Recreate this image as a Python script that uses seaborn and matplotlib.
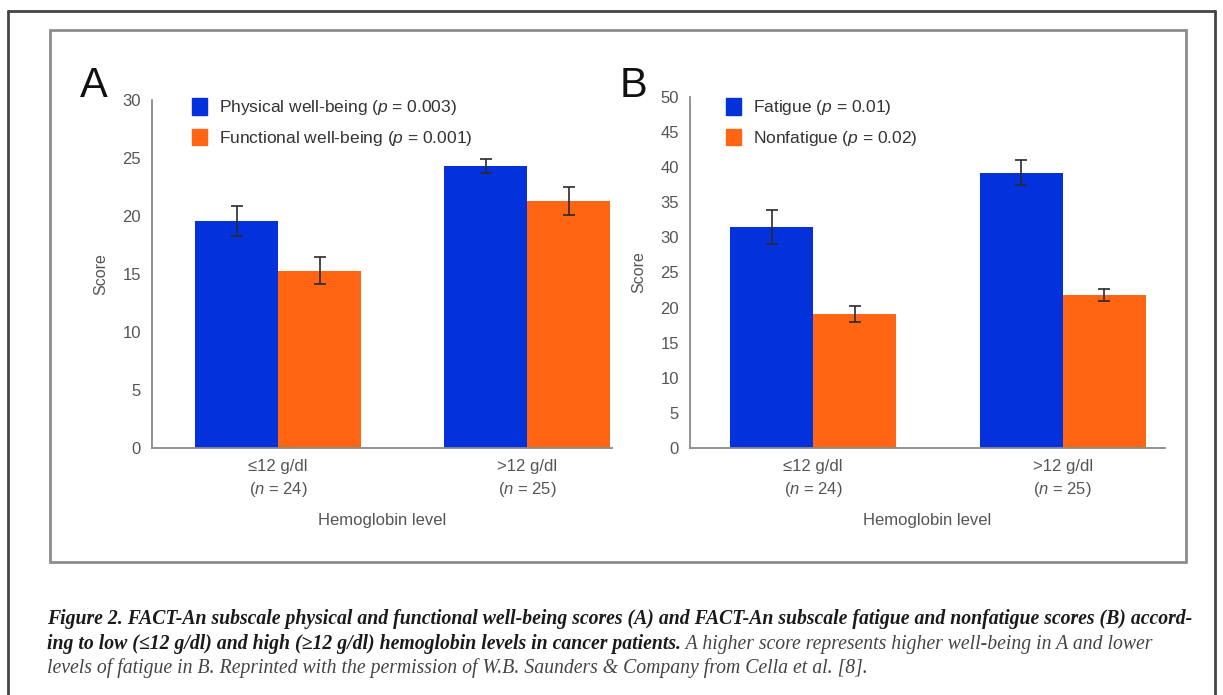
import numpy as np
import pandas as pd
import matplotlib
matplotlib.use("Agg")
import matplotlib.pyplot as plt
import seaborn as sns
from matplotlib.patches import Patch
from matplotlib.lines import Line2D

# Data
levels = ["≤12 g/dl", ">12 g/dl"]
n_sizes = [24, 25]

series_a = ["Physical well-being (p = 0.003)", "Functional well-being (p = 0.001)"]
a_physical = [19.6, 24.3]
a_physical_err = [1.3, 0.6]
a_functional = [15.3, 21.3]
a_functional_err = [1.2, 1.2]

series_b = ["Fatigue (p = 0.01)", "Nonfatigue (p = 0.02)"]
b_fatigue = [31.5, 39.2]
b_fatigue_err = [2.4, 1.8]
b_nonfatigue = [19.1, 21.8]
b_nonfatigue_err = [1.1, 0.8]

legend_a = [r"Physical well-being ($\it{p}$ = 0.003)", r"Functional well-being ($\it{p}$ = 0.001)"]
legend_b = [r"Fatigue ($\it{p}$ = 0.01)", r"Nonfatigue ($\it{p}$ = 0.02)"]
tick_labels = [f"{lv}\n($\\it{{n}}$ = {n})" for lv, n in zip(levels, n_sizes)]

blue = "#0332DC"
orange = "#FF6513"
grey_txt = "#555555"
grey_ax = "#8a8a8a"

sns.set_style("white")
plt.rcParams["font.family"] = ["Liberation Sans", "DejaVu Sans"]
plt.rcParams["mathtext.fontset"] = "custom"
plt.rcParams["mathtext.rm"] = "Liberation Sans"
plt.rcParams["mathtext.it"] = "Liberation Sans:italic"

W, H = 1223, 695
fig = plt.figure(figsize=(W / 100, H / 100), dpi=100)
fig.patch.set_facecolor("white")


def fx(px):
    return px / W


def fy(py):
    return 1 - py / H


# frames
fig.add_artist(Line2D([fx(8), fx(8)], [0, fy(11)], color="#444444", lw=2))
fig.add_artist(Line2D([fx(8), fx(1215)], [fy(11), fy(11)], color="#444444", lw=2))
fig.add_artist(Line2D([fx(1215), fx(1215)], [0, fy(11)], color="#444444", lw=2))
fig.add_artist(plt.Rectangle((fx(50), fy(562)), fx(1186) - fx(50), fy(30) - fy(562),
                             transform=fig.transFigure, fill=False, ec="#8c8c8c", lw=2))


def panel(ax, names, vals1, errs1, vals2, errs2, ymax, xlim, labels, letter, letter_x, leg_x):
    df = pd.DataFrame({
        "level": levels * 2,
        "score": vals1 + vals2,
        "series": [names[0]] * 2 + [names[1]] * 2,
    })
    sns.barplot(data=df, x="level", y="score", hue="series", palette=[blue, orange],
                width=0.667, saturation=1, ax=ax, legend=False, errorbar=None, linewidth=0)
    for cont, errs in zip(ax.containers, [errs1, errs2]):
        xs = [b.get_x() + b.get_width() / 2 for b in cont]
        ys = [b.get_height() for b in cont]
        ax.errorbar(xs, ys, yerr=errs, fmt="none", ecolor="#2a2a2a", elinewidth=1.2,
                    capsize=4, capthick=1.2)
    ax.set_xlim(*xlim)
    ax.set_ylim(0, ymax)
    ax.set_yticks(np.arange(0, ymax + 1, 5))
    ax.set_xticks([0, 1])
    ax.set_xticklabels(tick_labels, fontsize=12, color=grey_txt, linespacing=1.45)
    ax.tick_params(axis="x", length=0, pad=8)
    ax.tick_params(axis="y", length=4, width=1, color=grey_ax, labelsize=12,
                   labelcolor=grey_txt, pad=4)
    sns.despine(ax=ax)
    for s in ["left", "bottom"]:
        ax.spines[s].set_color(grey_ax)
        ax.spines[s].set_linewidth(1.3)
    ax.set_facecolor("none")
    ax.set_xlabel("Hemoglobin level", fontsize=12, color=grey_txt, labelpad=10)
    ax.set_ylabel("Score", fontsize=11.5, color=grey_txt, labelpad=10)
    handles = [Patch(color=blue), Patch(color=orange)]
    ax.legend(handles, labels, loc="upper left", frameon=False, fontsize=12.5,
              bbox_to_anchor=(fx(leg_x), fy(98)), bbox_transform=fig.transFigure,
              borderaxespad=0, borderpad=0, handlelength=0.85, handleheight=1.1,
              handletextpad=0.7, labelspacing=0.65, labelcolor="#333333")
    fig.text(fx(letter_x), fy(97), letter, fontsize=30, color="#111111",
             ha="left", va="baseline")


axA = fig.add_axes([fx(152), fy(448), fx(612) - fx(152), fy(100) - fy(448)])
panel(axA, series_a, a_physical, a_physical_err, a_functional, a_functional_err, 30,
      (-0.506, 1.34), legend_a, "A", 80, 192)

axB = fig.add_axes([fx(690), fy(448), fx(1165) - fx(690), fy(97) - fy(448)])
panel(axB, series_b, b_fatigue, b_fatigue_err, b_nonfatigue, b_nonfatigue_err, 50,
      (-0.494, 1.41), legend_b, "B", 620, 726)

# caption
cap1 = ("Figure 2. FACT-An subscale physical and functional well-being scores (A) and "
        "FACT-An subscale fatigue and nonfatigue scores (B) accord-")
cap2a = "ing to low (≤12 g/dl) and high (≥12 g/dl) hemoglobin levels in cancer patients."
cap2b = " A higher score represents higher well-being in A and lower"
cap3 = ("levels of fatigue in B. Reprinted with the permission of W.B. Saunders & Company "
        "from Cella et al. [8].")

bold = dict(family="Liberation Serif", style="italic", weight="bold", color="#1a1a1a")
reg = dict(family="Liberation Serif", style="italic", color="#444444")

renderer = fig.canvas.get_renderer()
t1 = fig.text(fx(47), fy(624), cap1, fontsize=10, **bold)
w = t1.get_window_extent(renderer).width
size = 10 * (1193 - 47) / w
t1.set_fontsize(size)

t2 = fig.text(fx(47), fy(649), cap2a, fontsize=size, **bold)
w2 = t2.get_window_extent(renderer).width
fig.text(fx(47) + w2 / W, fy(649), cap2b, fontsize=size, **reg)
fig.text(fx(47), fy(673), cap3, fontsize=size, **reg)

fig.savefig("out.png", dpi=100, facecolor="white")
